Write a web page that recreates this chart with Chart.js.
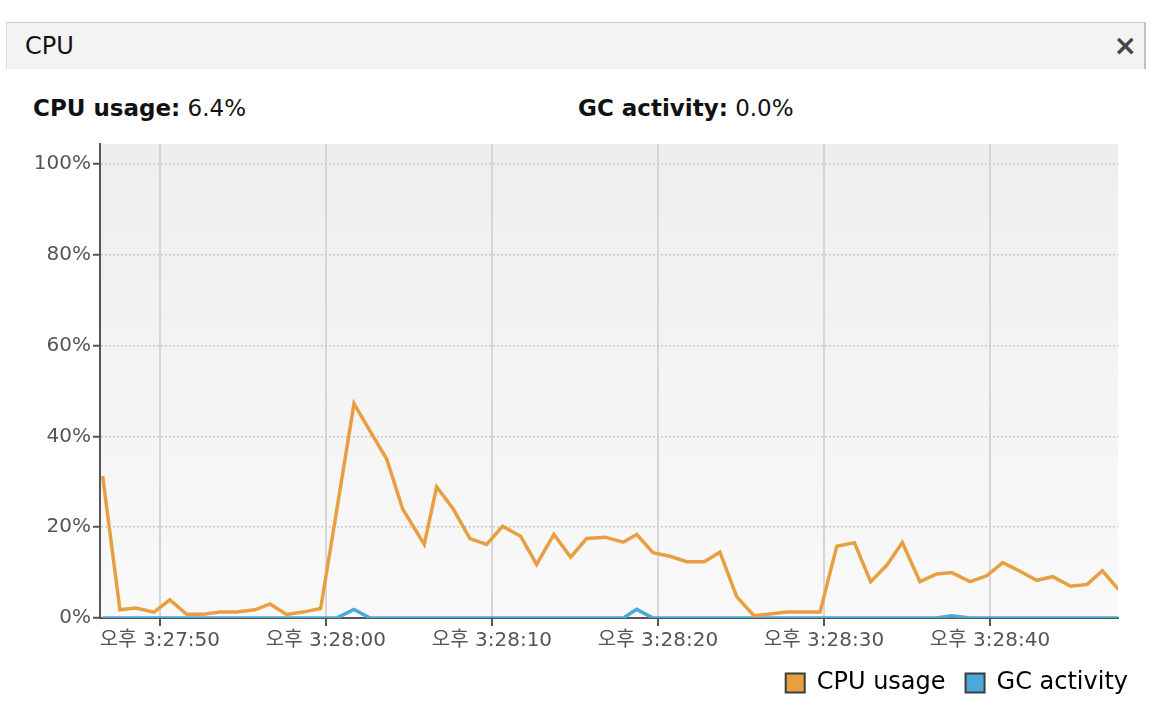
<!DOCTYPE html>
<html>
<head>
<meta charset="utf-8">
<script src="https://cdn.jsdelivr.net/npm/chart.js@4.4.1/dist/chart.umd.min.js"></script>
<style>
  body {
    margin: 0;
    width: 1154px;
    height: 710px;
    overflow: hidden;
    position: relative;
    background: #fff;
    font-family: "DejaVu Sans", "Noto Sans CJK KR", sans-serif;
  }
  .tab {
    position: absolute;
    left: 6px;
    top: 22px;
    width: 1137px;
    height: 46px;
    background: #f3f3f3;
    border-top: 1px solid #c8c8c8;
    border-left: 1px solid #dcdcdc;
    border-right: 2px solid #c2c2c2;
  }
  .tab-title {
    position: absolute;
    left: 18px;
    top: 9px;
    font-size: 24px;
    color: #111;
  }
  .tab-close {
    position: absolute;
    right: 7px;
    top: 6px;
    font-size: 28px;
    color: #444;
    font-weight: bold;
  }
  .stat {
    position: absolute;
    top: 95px;
    font-size: 23px;
    color: #111;
    white-space: nowrap;
  }
  .stat b { font-weight: bold; }
  #chart {
    position: absolute;
    left: 0;
    top: 130px;
  }
</style>
</head>
<body>
<div class="tab">
  <span class="tab-title">CPU</span>
  <span class="tab-close">×</span>
</div>
<div class="stat" style="left:33px"><b>CPU usage:</b> 6.4%</div>
<div class="stat" style="left:578px"><b>GC activity:</b> 0.0%</div>
<canvas id="chart" width="1154" height="580"></canvas>

<script>
// seconds after 오후 3:27:00 for each sample
const secs = [
  46.55, 47.59, 48.55, 49.64, 50.60, 51.61, 52.59, 53.61, 54.62, 55.72,
  56.63, 57.63, 58.61, 59.68, 60.64, 61.69, 62.65, 63.66, 64.62, 65.92,
  66.67, 67.67, 68.67, 69.68, 70.64, 71.73, 72.69, 73.73, 74.74, 75.70,
  76.81, 77.91, 78.72, 79.70, 80.72, 81.73, 82.79, 83.73, 84.74, 85.78,
  86.75, 87.75, 88.73, 89.76, 90.77, 91.83, 92.81, 93.78, 94.72, 95.78,
  96.79, 97.69, 98.80, 99.80, 100.77, 101.81, 102.81, 103.78, 104.86, 105.86,
  106.77, 107.73
];
const cpuUsage = [
  31.2, 1.8, 2.2, 1.3, 4.0, 0.8, 0.8, 1.3, 1.3, 1.8,
  3.1, 0.8, 1.3, 2.1, 23.5, 47.2, 41.2, 35.0, 24.0, 16.2,
  28.9, 24.0, 17.5, 16.2, 20.2, 18.0, 11.8, 18.4, 13.4, 17.5,
  17.8, 16.7, 18.4, 14.4, 13.6, 12.4, 12.4, 14.5, 4.7, 0.5,
  0.9, 1.3, 1.3, 1.3, 15.8, 16.6, 8.0, 11.6, 16.6, 8.0,
  9.7, 10.0, 8.0, 9.3, 12.2, 10.3, 8.3, 9.1, 7.0, 7.4,
  10.4, 6.3
];
const gcActivity = [
  0, 0, 0, 0, 0, 0, 0, 0, 0, 0,
  0, 0, 0, 0, 0, 1.9, 0, 0, 0, 0,
  0, 0, 0, 0, 0, 0, 0, 0, 0, 0,
  0, 0, 1.9, 0, 0, 0, 0, 0, 0, 0,
  0, 0, 0, 0, 0, 0, 0, 0, 0, 0,
  0, 0.5, 0, 0, 0, 0, 0, 0, 0, 0,
  0, 0
];
const xTickSecs = [50, 60, 70, 80, 90, 100];
const xTickLabels = ["오후 3:27:50", "오후 3:28:00", "오후 3:28:10", "오후 3:28:20", "오후 3:28:30", "오후 3:28:40"];
const yTicks = [0, 20, 40, 60, 80, 100];
const seriesNames = ["CPU usage", "GC activity"];
const seriesColors = ["#e89f42", "#4aa9d8"];

const FONT = '"DejaVu Sans", "Noto Sans CJK KR", sans-serif';

const toPoints = (vals) => vals.map((v, i) => ({ x: secs[i], y: v }));

// gradient behind the plot
const plotBg = {
  id: "plotBg",
  beforeDraw(chart) {
    const { ctx, chartArea: a } = chart;
    const g = ctx.createLinearGradient(0, a.top, 0, a.bottom);
    g.addColorStop(0, "#eeeeee");
    g.addColorStop(1, "#f9f9f9");
    ctx.save();
    ctx.fillStyle = g;
    ctx.fillRect(a.left, a.top, a.width, a.height);
    ctx.restore();
  },
};

new Chart(document.getElementById("chart"), {
  type: "line",
  data: {
    datasets: [
      {
        label: seriesNames[0],
        data: toPoints(cpuUsage),
        borderColor: seriesColors[0],
        backgroundColor: seriesColors[0],
        borderWidth: 3.5,
        pointRadius: 0,
        tension: 0,
      },
      {
        label: seriesNames[1],
        data: toPoints(gcActivity),
        borderColor: seriesColors[1],
        backgroundColor: seriesColors[1],
        borderWidth: 3.5,
        pointRadius: 0,
        tension: 0,
      },
    ],
  },
  options: {
    responsive: false,
    animation: false,
    devicePixelRatio: 1,
    layout: { padding: { top: 12, right: 6, bottom: 5, left: 0 } },
    plugins: {
      tooltip: { enabled: false },
      legend: {
        position: "bottom",
        align: "end",
        labels: {
          boxWidth: 19,
          boxHeight: 19,
          padding: 20,
          color: "#111",
          font: { family: FONT, size: 24 },
          generateLabels: (chart) =>
            chart.data.datasets.map((d, i) => ({
              text: d.label,
              fillStyle: d.borderColor,
              strokeStyle: "#3c3c3c",
              lineWidth: 2,
              hidden: false,
              datasetIndex: i,
            })),
        },
      },
    },
    scales: {
      x: {
        type: "linear",
        min: 46.39,
        max: 107.71,
        afterBuildTicks: (s) => { s.ticks = xTickSecs.map((v) => ({ value: v })); },
        afterFit: (s) => { s.height = 33; },
        ticks: {
          autoSkip: false,
          maxRotation: 0,
          color: "#555",
          padding: 3,
          font: { family: FONT, size: 20 },
          callback: (v) => xTickLabels[xTickSecs.indexOf(v)],
        },
        grid: {
          color: "#d6d6d6",
          lineWidth: 2,
          tickColor: "#555",
          tickLength: 8,
          tickWidth: 2,
        },
        border: { color: "#555", width: 2 },
      },
      y: {
        type: "linear",
        min: 0,
        max: 104.4,
        afterBuildTicks: (s) => { s.ticks = yTicks.map((v) => ({ value: v })); },
        afterFit: (s) => { s.width = 100; },
        ticks: {
          color: "#555",
          padding: 2,
          font: { family: FONT, size: 20 },
          callback: (v) => v + "%",
        },
        grid: {
          color: "#c8c8c8",
          lineWidth: 1.5,
          tickBorderDash: [],
          tickColor: "#555",
          tickLength: 7,
          tickWidth: 2,
        },
        // in v4 border.dash sets the dash of the grid lines
        border: { color: "#555", width: 2, dash: [2, 2] },
      },
      // empty right axis, only keeps the plot off the right edge
      yRight: {
        type: "linear",
        position: "right",
        grid: { display: false },
        ticks: { display: false },
        border: { display: false },
        afterFit: (s) => { s.width = 30; },
      },
    },
  },
  plugins: [plotBg],
});
</script>
</body>
</html>
